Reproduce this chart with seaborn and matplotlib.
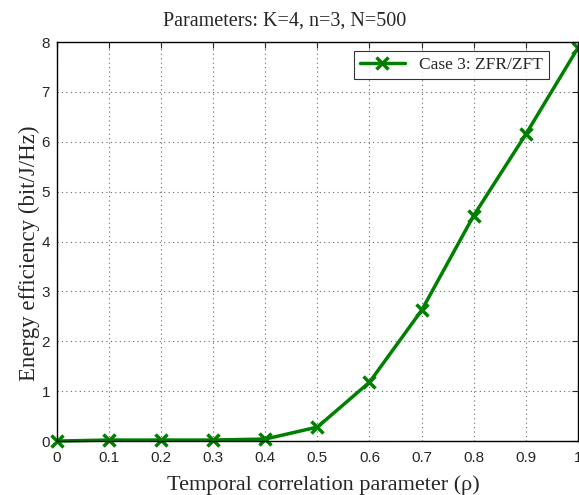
import numpy as np
import pandas as pd
import matplotlib
matplotlib.use("Agg")
import matplotlib.pyplot as plt
import seaborn as sns

# values
rho = [0.0, 0.1, 0.2, 0.3, 0.4, 0.5, 0.6, 0.7, 0.8, 0.9, 1.0]
energy_eff = [0.0, 0.02, 0.02, 0.02, 0.04, 0.28, 1.18, 2.62, 4.52, 6.15, 7.88]
series_name = "Case 3: ZFR/ZFT"
x_ticks = [0, 0.1, 0.2, 0.3, 0.4, 0.5, 0.6, 0.7, 0.8, 0.9, 1]
x_tick_labels = ["0", "0.1", "0.2", "0.3", "0.4", "0.5", "0.6", "0.7", "0.8", "0.9", "1"]
y_ticks = [0, 1, 2, 3, 4, 5, 6, 7, 8]

df = pd.DataFrame({"rho": rho, "ee": energy_eff, "case": series_name})

sns.set_style("white")
serif = ["Liberation Serif", "DejaVu Serif"]
plt.rcParams["font.family"] = ["Liberation Sans", "DejaVu Sans"]

fig = plt.figure(figsize=(5.79, 4.95), dpi=100)
ax = fig.add_axes([0.0984, 0.109, 0.8996, 0.806])

sns.lineplot(data=df, x="rho", y="ee", hue="case", palette=["#008000"],
             marker="x", markersize=9, markeredgewidth=2.5, linewidth=2.5,
             markeredgecolor="#008000", ax=ax, clip_on=False)

ax.set_xlim(0, 1)
ax.set_ylim(0, 8)
ax.set_xticks(x_ticks)
ax.set_xticklabels(x_tick_labels)
ax.set_yticks(y_ticks)
ax.grid(True, linestyle=(0, (1, 3)), color="#666666", linewidth=0.8)
ax.tick_params(direction="in", top=True, right=True, length=4, labelsize=11, width=0.8)
ax.tick_params(axis="x", pad=7)
ax.tick_params(axis="y", pad=5)
for s in ax.spines.values():
    s.set_color("black")
    s.set_linewidth(1.0)

fig.text(0.492, 0.958, "Parameters: K=4, n=3, N=500", family=serif, fontsize=14.5,
         ha="center", va="center")
ax.set_xlabel("Temporal correlation parameter (ρ)", family=serif, fontsize=16)
ax.xaxis.set_label_coords(0.512, -0.085)
ax.set_ylabel("Energy efficiency (bit/J/Hz)", family=serif, fontsize=16.5)
ax.yaxis.set_label_coords(-0.033, 0.47)

leg = ax.legend(loc="upper right", bbox_to_anchor=(0.944, 0.978), borderaxespad=0,
                prop={"family": serif, "size": 12.5},
                frameon=True, fancybox=False, edgecolor="black", handlelength=2.6,
                borderpad=0.35)
leg.get_frame().set_linewidth(0.8)

fig.savefig("out.png", dpi=100)
